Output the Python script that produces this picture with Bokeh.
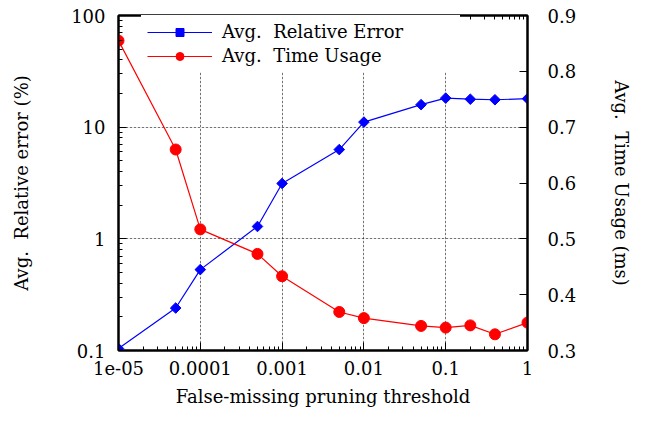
from bokeh.plotting import figure
from bokeh.models import (Range1d, LinearAxis, LogAxis, FixedTicker, CustomJSTickFormatter,
                          Legend, LegendItem, ColumnDataSource, Grid, LinearScale)
from bokeh.embed import file_html
from bokeh.resources import INLINE

# ---- data ----
thresholds = [1e-5, 5e-5, 1e-4, 5e-4, 1e-3, 5e-3, 1e-2, 5e-2, 0.1, 0.2, 0.4, 1.0]
rel_error = [0.104, 0.24, 0.53, 1.29, 3.13, 6.3, 11.1, 15.9, 18.2, 17.8, 17.6, 18.0]
time_usage = [0.855, 0.66, 0.517, 0.473, 0.433, 0.369, 0.358, 0.344, 0.341, 0.345, 0.329, 0.350]

x_ticks = [1e-5, 1e-4, 1e-3, 1e-2, 1e-1, 1.0]
x_labels = ["1e-05", "0.0001", "0.001", "0.01", "0.1", "1"]
y_ticks = [0.1, 1.0, 10.0, 100.0]
y_labels = ["0.1", "1", "10", "100"]
y2_ticks = [0.3, 0.4, 0.5, 0.6, 0.7, 0.8, 0.9]

x_minor = [m * 10.0 ** e for e in range(-5, 0) for m in range(2, 10)]
y_minor = [m * 10.0 ** e for e in range(-1, 2) for m in range(2, 10)]

FONT = "DejaVu Serif"
TICK_FS = "18px"
TITLE_FS = "18px"

src = ColumnDataSource(dict(x=thresholds, err=rel_error, t=time_usage))

p = figure(width=645, height=422, frame_width=409, frame_height=335,
           output_backend="svg", toolbar_location=None,
           x_axis_type="log", y_axis_type="log",
           x_range=Range1d(1e-5, 1.0), y_range=Range1d(0.1, 100.0),
           min_border_left=118, min_border_right=118, min_border_top=15, min_border_bottom=72,
           x_axis_location=None, y_axis_location=None)
p.extra_y_ranges = {"time": Range1d(0.3, 0.9)}
p.extra_y_scales = {"time": LinearScale()}
p.outline_line_color = "black"
p.outline_line_width = 2
p.background_fill_color = "white"
p.border_fill_color = "white"

fmt_code = """
for (let i = 0; i < tks.length; i++) {
  if (Math.abs(Math.log10(tick) - Math.log10(tks[i])) < 0.01) return lbls[i];
}
return "";
"""
xfmt = CustomJSTickFormatter(args=dict(tks=x_ticks, lbls=x_labels), code=fmt_code)
yfmt = CustomJSTickFormatter(args=dict(tks=y_ticks, lbls=y_labels), code=fmt_code)

def style(ax):
    ax.axis_line_color = "black"
    ax.axis_line_width = 2
    ax.major_tick_in = 8
    ax.major_tick_out = 0
    ax.minor_tick_in = 4
    ax.minor_tick_out = 0
    ax.major_tick_line_color = "black"
    ax.minor_tick_line_color = "black"
    ax.major_label_text_font = FONT
    ax.major_label_text_font_size = TICK_FS
    ax.major_label_text_color = "black"
    ax.axis_label_text_font = FONT
    ax.axis_label_text_font_size = TITLE_FS
    ax.axis_label_text_font_style = "normal"
    ax.axis_label_text_color = "black"

xticker = FixedTicker(ticks=x_ticks, minor_ticks=x_minor)
yticker = FixedTicker(ticks=y_ticks, minor_ticks=y_minor)

xb = LogAxis(ticker=xticker, formatter=xfmt, axis_label="False-missing pruning threshold")
style(xb)
xb.major_label_standoff = 10
xb.axis_label_standoff = 8
p.add_layout(xb, "below")

xt = LogAxis(ticker=xticker, formatter=CustomJSTickFormatter(code='return ""'))
style(xt)
xt.major_label_standoff = 0
p.add_layout(xt, "above")

yl = LogAxis(ticker=yticker, formatter=yfmt, axis_label="Avg.\u00a0 Relative error (%)")
style(yl)
yl.major_label_standoff = 13
yl.axis_label_standoff = 36
p.add_layout(yl, "left")

yr = LinearAxis(y_range_name="time", ticker=FixedTicker(ticks=y2_ticks, minor_ticks=[]),
                axis_label="Avg.\u00a0 Time Usage (ms)")
style(yr)
yr.major_label_standoff = 20
yr.axis_label_standoff = 32
p.add_layout(yr, "right")

gx = Grid(dimension=0, ticker=FixedTicker(ticks=x_ticks[1:-1]), grid_line_color="black",
          grid_line_dash="1 3", grid_line_width=1)
gy = Grid(dimension=1, ticker=FixedTicker(ticks=y_ticks[1:-1]), grid_line_color="black",
          grid_line_dash="1 3", grid_line_width=1)
p.add_layout(gx)
p.add_layout(gy)

BLUE = "#0000ff"
RED = "#ff0000"

l1 = p.line("x", "err", source=src, line_color=BLUE, line_width=1.2)
s1 = p.scatter("x", "err", source=src, marker="square", angle=0.7854, size=7.5,
               fill_color=BLUE, line_color=BLUE)
l2 = p.line("x", "t", source=src, y_range_name="time", line_color=RED, line_width=1.2)
s2 = p.scatter("x", "t", source=src, y_range_name="time", marker="circle", size=11,
               fill_color=RED, line_color=RED)

legend = Legend(items=[LegendItem(label="Avg.\u00a0 Relative Error", renderers=[l1, s1]),
                       LegendItem(label="Avg.\u00a0 Time Usage", renderers=[l2, s2])],
                location=(23, 278), border_line_alpha=0, background_fill_color="white",
                background_fill_alpha=1.0, glyph_width=65, glyph_height=20,
                label_height=20, label_width=232, spacing=3, padding=6, margin=0,
                label_text_font=FONT, label_text_font_size=TITLE_FS, label_standoff=10,
                label_text_color="black")
p.add_layout(legend, "center")

open("out.html", "w").write(file_html(p, INLINE))
